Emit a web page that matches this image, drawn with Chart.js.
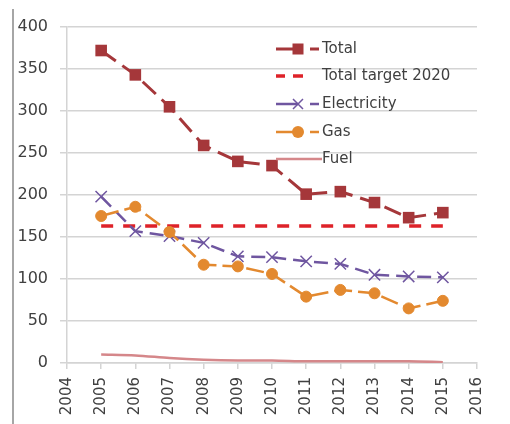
<!DOCTYPE html>
<html>
<head>
<meta charset="utf-8">
<script src="https://cdn.jsdelivr.net/npm/chart.js@4/dist/chart.umd.min.js"></script>
<style>
  html, body { margin: 0; padding: 0; background: #fff; }
  #wrap { width: 510px; height: 424px; position: relative; }
</style>
</head>
<body>
<div id="wrap"><canvas id="chart" width="510" height="424"></canvas></div>
<script>
// values
const years = [2005, 2006, 2007, 2008, 2009, 2010, 2011, 2012, 2013, 2014, 2015];
const total = [372, 343, 305, 259, 240, 235, 201, 204, 191, 173, 179];
const totalTarget = [163, 163, 163, 163, 163, 163, 163, 163, 163, 163, 163];
const electricity = [198, 157, 151, 143, 127, 126, 121, 118, 105, 103, 102];
const gas = [175, 186, 156, 117, 115, 106, 79, 87, 83, 65, 74];
const fuel = [10, 9, 6, 4, 3, 3, 2, 2, 2, 2, 1];
const yTicks = [0, 50, 100, 150, 200, 250, 300, 350, 400];

const FONT = 'DejaVu Sans';
const TEXT = '#404040';
const GRID = '#d4d4d4';

const C_TOTAL = '#a5373a';
const C_TARGET = '#de2229';
const C_ELEC = '#6f56a0';
const C_GAS = '#e3892f';
const C_FUEL = '#d5878a';

function pts(values) {
    return years.map((y, i) => ({ x: y, y: values[i] }));
}

// draws a marker shape for the legend
function drawMarker(ctx, style, x, y, color) {
    ctx.save();
    ctx.fillStyle = color;
    ctx.strokeStyle = color;
    ctx.setLineDash([]);
    if (style === 'rect') {
        ctx.fillRect(x - 5.5, y - 5.5, 11, 11);
    } else if (style === 'circle') {
        ctx.beginPath();
        ctx.arc(x, y, 6, 0, Math.PI * 2);
        ctx.fill();
    } else if (style === 'crossRot') {
        ctx.lineWidth = 1.5;
        ctx.beginPath();
        ctx.moveTo(x - 5, y - 5); ctx.lineTo(x + 5, y + 5);
        ctx.moveTo(x - 5, y + 5); ctx.lineTo(x + 5, y - 5);
        ctx.stroke();
    }
    ctx.restore();
}

const legendItems = [
    { label: 'Total', color: C_TOTAL, marker: 'rect', kind: 'marker', width: 3 },
    { label: 'Total target 2020', color: C_TARGET, kind: 'dash', width: 3.5 },
    { label: 'Electricity', color: C_ELEC, marker: 'crossRot', kind: 'marker', width: 2.5 },
    { label: 'Gas', color: C_GAS, marker: 'circle', kind: 'marker', width: 2.5 },
    { label: 'Fuel', color: C_FUEL, kind: 'solid', width: 2.5 }
];

const insideLegend = {
    id: 'insideLegend',
    afterDraw(chart) {
        const ctx = chart.ctx;
        ctx.save();
        // frame line on the left
        ctx.fillStyle = '#a6a6a6';
        ctx.fillRect(12, 9, 2, 415);

        const x0 = 276;
        const rowY = [49, 76, 104, 132, 159];
        ctx.font = '15px "' + FONT + '"';
        ctx.textBaseline = 'middle';
        ctx.textAlign = 'left';
        legendItems.forEach((item, i) => {
            const y = rowY[i];
            ctx.strokeStyle = item.color;
            ctx.lineWidth = item.width;
            ctx.lineCap = 'butt';
            ctx.beginPath();
            if (item.kind === 'marker') {
                ctx.moveTo(x0, y); ctx.lineTo(x0 + 22, y);
                ctx.moveTo(x0 + 34, y); ctx.lineTo(x0 + 43, y);
            } else if (item.kind === 'dash') {
                ctx.moveTo(x0, y); ctx.lineTo(x0 + 9, y);
                ctx.moveTo(x0 + 17, y); ctx.lineTo(x0 + 27, y);
            } else {
                ctx.moveTo(x0, y); ctx.lineTo(x0 + 46, y);
            }
            ctx.stroke();
            if (item.marker) {
                drawMarker(ctx, item.marker, x0 + 22, y, item.color);
            }
            ctx.fillStyle = TEXT;
            ctx.fillText(item.label, x0 + 46, y);
        });
        ctx.restore();
    }
};

const ctx = document.getElementById('chart').getContext('2d');
new Chart(ctx, {
    type: 'line',
    data: {
        datasets: [
            {
                label: 'Fuel',
                data: pts(fuel),
                borderColor: C_FUEL,
                borderWidth: 2.5,
                pointRadius: 0,
                tension: 0.3
            },
            {
                label: 'Gas',
                data: pts(gas),
                borderColor: C_GAS,
                backgroundColor: C_GAS,
                borderWidth: 2.5,
                borderDash: [18, 6],
                pointStyle: 'circle',
                pointRadius: 5.5,
                pointBorderWidth: 1
            },
            {
                label: 'Electricity',
                data: pts(electricity),
                borderColor: C_ELEC,
                backgroundColor: C_ELEC,
                borderWidth: 2.5,
                borderDash: [14, 7],
                pointStyle: 'crossRot',
                pointRadius: 8,
                pointBorderWidth: 1.5
            },
            {
                label: 'Total target 2020',
                data: pts(totalTarget),
                borderColor: C_TARGET,
                borderWidth: 3.5,
                borderDash: [12, 10],
                pointRadius: 0
            },
            {
                label: 'Total',
                data: pts(total),
                borderColor: C_TOTAL,
                backgroundColor: C_TOTAL,
                borderWidth: 3,
                borderDash: [18, 8],
                pointStyle: 'rect',
                pointRadius: 8.2,
                pointBorderWidth: 0
            }
        ]
    },
    options: {
        responsive: false,
        animation: false,
        layout: { padding: { left: 0, right: 33, top: 27, bottom: 0 } },
        plugins: {
            legend: { display: false },
            tooltip: { enabled: false }
        },
        elements: { line: { fill: false } },
        scales: {
            x: {
                type: 'linear',
                min: 2004,
                max: 2016,
                afterFit: (scale) => { scale.height = 61; },
                ticks: {
                    stepSize: 1,
                    autoSkip: false,
                    minRotation: 90,
                    maxRotation: 90,
                    padding: 8,
                    color: TEXT,
                    font: { family: FONT, size: 15 },
                    callback: (v) => String(v)
                },
                grid: {
                    drawOnChartArea: false,
                    drawTicks: true,
                    tickLength: 6,
                    color: GRID,
                    lineWidth: 1.5
                },
                border: { color: GRID, width: 1.5 }
            },
            y: {
                min: 0,
                max: 400,
                afterFit: (scale) => { scale.width = 67; },
                afterBuildTicks: (scale) => { scale.ticks = yTicks.map(v => ({ value: v })); },
                ticks: {
                    padding: 12,
                    color: TEXT,
                    font: { family: FONT, size: 16 }
                },
                grid: {
                    color: GRID,
                    lineWidth: 1.5,
                    tickLength: 7
                },
                border: { color: GRID, width: 1.5 }
            }
        }
    },
    plugins: [insideLegend]
});
</script>
</body>
</html>
